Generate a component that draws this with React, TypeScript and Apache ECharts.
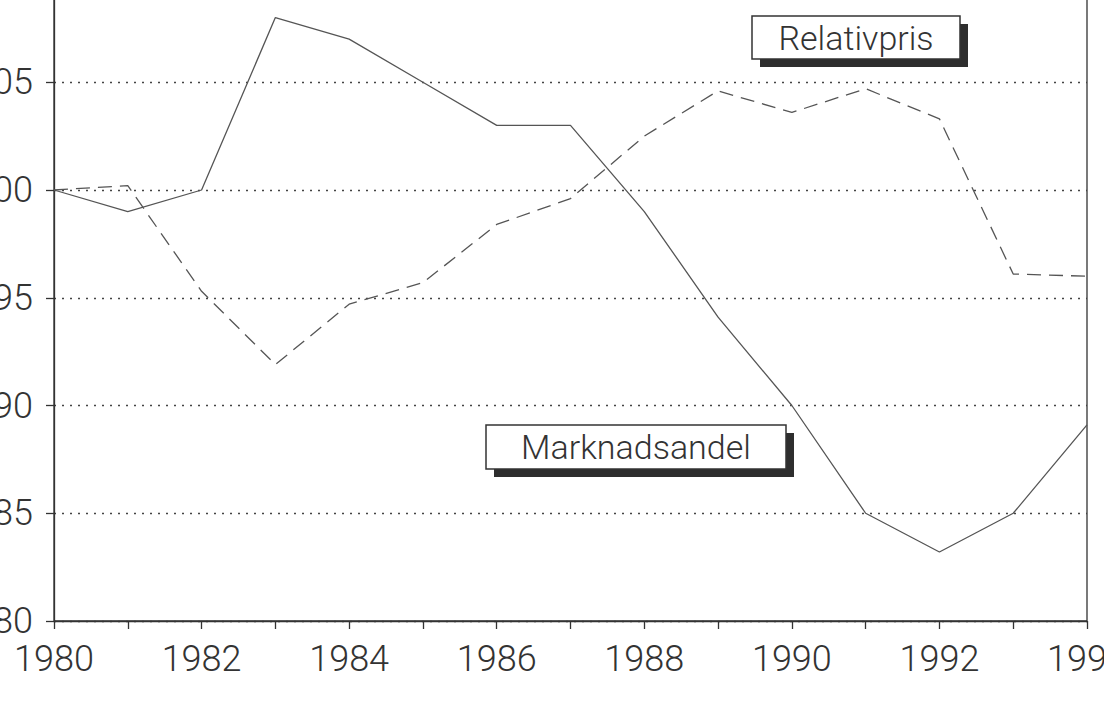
import React, { useEffect, useRef } from "react";
import * as echarts from "echarts";

const years = ["1980", "1981", "1982", "1983", "1984", "1985", "1986", "1987", "1988", "1989", "1990", "1991", "1992", "1993", "1994"];
const marknadsandel = [100, 99, 100, 108, 107, 105, 103, 103, 99, 94.1, 90, 85, 83.2, 85, 89.1];
const relativpris = [100, 100.2, 95.3, 91.9, 94.7, 95.7, 98.4, 99.6, 102.5, 104.6, 103.6, 104.7, 103.3, 96.1, 96.0];
const yMin = 80;
const yMax = 110;
const yStep = 5;
const labelRelativpris = "Relativpris";
const labelMarknadsandel = "Marknadsandel";

const INK = "#333";
const FONT = "Roboto, 'Liberation Sans', sans-serif";

function boxLabel(text: string, x: number, y: number, w: number, h: number) {
  return {
    type: "group",
    z: 100,
    children: [
      { type: "rect", shape: { x: x + 8, y: y + 8, width: w, height: h }, style: { fill: "#2e2e2e" }, z: 100 },
      { type: "rect", shape: { x, y, width: w, height: h }, style: { fill: "#fff", stroke: INK, lineWidth: 1.5 }, z: 101 },
      {
        type: "text",
        x: x + w / 2,
        y: y + h / 2,
        z: 102,
        style: { text, align: "center", verticalAlign: "middle", fontSize: 34, fontFamily: FONT, fontWeight: 300, fill: INK },
      },
    ],
  };
}

export default function App() {
  const ref = useRef<HTMLDivElement>(null);
  useEffect(() => {
    if (!ref.current) return;
    const chart = echarts.init(ref.current, undefined, { renderer: "svg" });
    chart.setOption({
      animation: false,
      backgroundColor: "#fff",
      grid: {
        left: 54,
        right: 17,
        top: -25.5,
        bottom: 94,
        containLabel: false,
        outerBoundsMode: "none",
        show: true,
        borderColor: INK,
        borderWidth: 1.3,
        backgroundColor: "transparent",
      },
      xAxis: {
        type: "category",
        data: years,
        boundaryGap: false,
        axisLine: { lineStyle: { color: INK, width: 1.3 } },
        axisTick: { show: true, interval: 0, length: 8, lineStyle: { color: INK, width: 1.3 } },
        axisLabel: { interval: 1, margin: 20, fontSize: 36, fontFamily: FONT, fontWeight: 300, color: INK, hideOverlap: false },
        splitLine: { show: false },
      },
      yAxis: {
        type: "value",
        min: yMin,
        max: yMax,
        interval: yStep,
        axisLine: { show: true, lineStyle: { color: INK, width: 1.3 } },
        axisTick: { show: true, length: 8, lineStyle: { color: INK, width: 1.3 } },
        axisLabel: { margin: 21, fontSize: 36, fontFamily: FONT, fontWeight: 300, color: INK },
        splitLine: { show: true, lineStyle: { color: "#444", width: 1.3, type: [2, 6] } },
      },
      series: [
        {
          name: labelMarknadsandel,
          type: "line",
          data: marknadsandel,
          symbol: "none",
          lineStyle: { color: "#555", width: 1.3 },
        },
        {
          name: labelRelativpris,
          type: "line",
          data: relativpris,
          symbol: "none",
          lineStyle: { color: "#555", width: 1.3, type: [14, 8] },
        },
      ],
      graphic: [
        boxLabel(labelRelativpris, 752, 16, 208, 43),
        boxLabel(labelMarknadsandel, 486, 425, 300, 44),
      ],
    });
    return () => chart.dispose();
  }, []);
  return <div ref={ref} style={{ position: "absolute", left: 0, top: 0, width: 1104, height: 715 }} />;
}
